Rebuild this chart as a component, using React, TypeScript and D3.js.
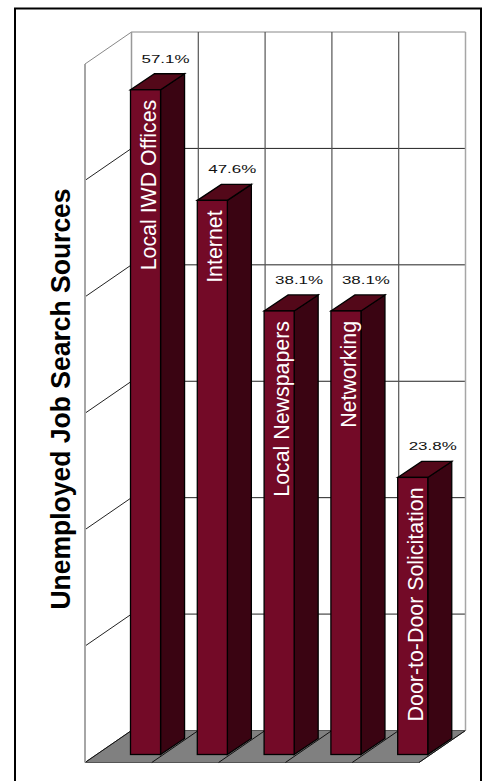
import React from 'react';
import * as d3 from 'd3';

const categories = ['Local IWD Offices', 'Internet', 'Local Newspapers', 'Networking', 'Door-to-Door Solicitation'];
const values = [57.1, 47.6, 38.1, 38.1, 23.8];
const valueLabels = ['57.1%', '47.6%', '38.1%', '38.1%', '23.8%'];
const yTicks = [0, 10, 20, 30, 40, 50, 60];

const width = 486;
const height = 781;
const depthX = 46.5;
const depthY = 32;

// scales describe the back wall, everything else is offset from it
const x = d3.scaleBand<string>().domain(categories).range([131.5, 465.5]);
const y = d3.scaleLinear().domain([0, 60]).range([730.5, 32]);
const boundaries = [...categories.map(c => x(c) as number), 465.5];

const barWidth = x.bandwidth() * 0.45;
const barDx = 24;
const barDy = 16;
const poly = (pts: [number, number][]) => (d3.line()(pts) as string) + 'Z';

export default function App() {
  const floorBack = y(0);
  const floorFront = floorBack + depthY;
  return (
    <svg width={width} height={height} style={{ position: 'absolute', left: 0, top: 0, background: '#fff' }}>
      {/* frame */}
      <path d={`M15 ${height}V8.5H481V${height}`} fill="none" stroke="#000" strokeWidth={2} />

      {/* floor */}
      <path
        d={poly([[boundaries[0], floorBack], [boundaries[5], floorBack], [boundaries[5] - depthX, floorFront], [boundaries[0] - depthX, floorFront]])}
        fill="#808080"
        stroke="#555"
      />
      {boundaries.map((b, i) => (
        <line key={i} x1={b} y1={floorBack} x2={b - depthX} y2={floorFront} stroke="#111" strokeWidth={1} />
      ))}

      {/* walls */}
      {yTicks.slice(1, -1).map(t => (
        <g key={t}>
          <line x1={boundaries[0]} x2={boundaries[5]} y1={y(t)} y2={y(t)} stroke="#222" strokeWidth={1} />
          <line x1={boundaries[0] - depthX} x2={boundaries[0]} y1={y(t) + depthY} y2={y(t)} stroke="#222" strokeWidth={1} />
        </g>
      ))}
      <line x1={boundaries[0]} x2={boundaries[5]} y1={y(60)} y2={y(60)} stroke="#888" strokeWidth={1} />
      <line x1={boundaries[0] - depthX} x2={boundaries[0]} y1={y(60) + depthY} y2={y(60)} stroke="#888" strokeWidth={1} />
      {boundaries.slice(1, -1).map((b, i) => (
        <line key={i} x1={b} x2={b} y1={y(60)} y2={floorBack} stroke="#555" strokeWidth={1.2} />
      ))}
      <line x1={boundaries[0]} x2={boundaries[0]} y1={y(60)} y2={floorBack} stroke="#999" strokeWidth={1.5} />
      <line x1={boundaries[5]} x2={boundaries[5]} y1={y(60)} y2={floorBack} stroke="#a6a6a6" strokeWidth={1.5} />
      <line x1={boundaries[0] - depthX} x2={boundaries[0] - depthX} y1={y(60) + depthY} y2={floorFront} stroke="#a6a6a6" strokeWidth={2} />

      {/* bars */}
      {categories.map((c, i) => {
        const left = (x(c) as number) - 1;
        const right = left + barWidth;
        const top = y(values[i]) + barDy + 8;
        const bottom = y(0) + barDy + 8;
        return (
          <g key={c}>
            <path
              d={poly([[right, top], [right + barDx, top - barDy], [right + barDx, bottom - barDy], [right, bottom]])}
              fill="#3a0412"
              stroke="#000"
              strokeWidth={1.3}
            />
            <path
              d={poly([[left, top], [left + barDx, top - barDy], [right + barDx, top - barDy], [right, top]])}
              fill="#530819"
              stroke="#000"
              strokeWidth={1.3}
            />
            <rect x={left} y={top} width={barWidth} height={bottom - top} fill="#730a27" stroke="#000" strokeWidth={1.3} />
            <text
              transform={`translate(${left + 25},${top + 10}) rotate(-90) scale(0.95,1)`}
              textAnchor="end"
              fill="#fff"
              fontFamily="Liberation Sans"
              fontSize={22.5}
            >
              {c}
            </text>
            <text
              x={left + 35}
              y={top - barDy - 11}
              textAnchor="middle"
              textLength={48}
              lengthAdjust="spacingAndGlyphs"
              fill="#111"
              fontFamily="Liberation Sans"
              fontSize={11.5}
            >
              {valueLabels[i]}
            </text>
          </g>
        );
      })}

      <text
        transform="translate(70,399) rotate(-90) scale(0.93,1)"
        textAnchor="middle"
        fontFamily="Liberation Sans"
        fontWeight="bold"
        fontSize={28.5}
        fill="#000"
      >
        Unemployed Job Search Sources
      </text>
    </svg>
  );
}
